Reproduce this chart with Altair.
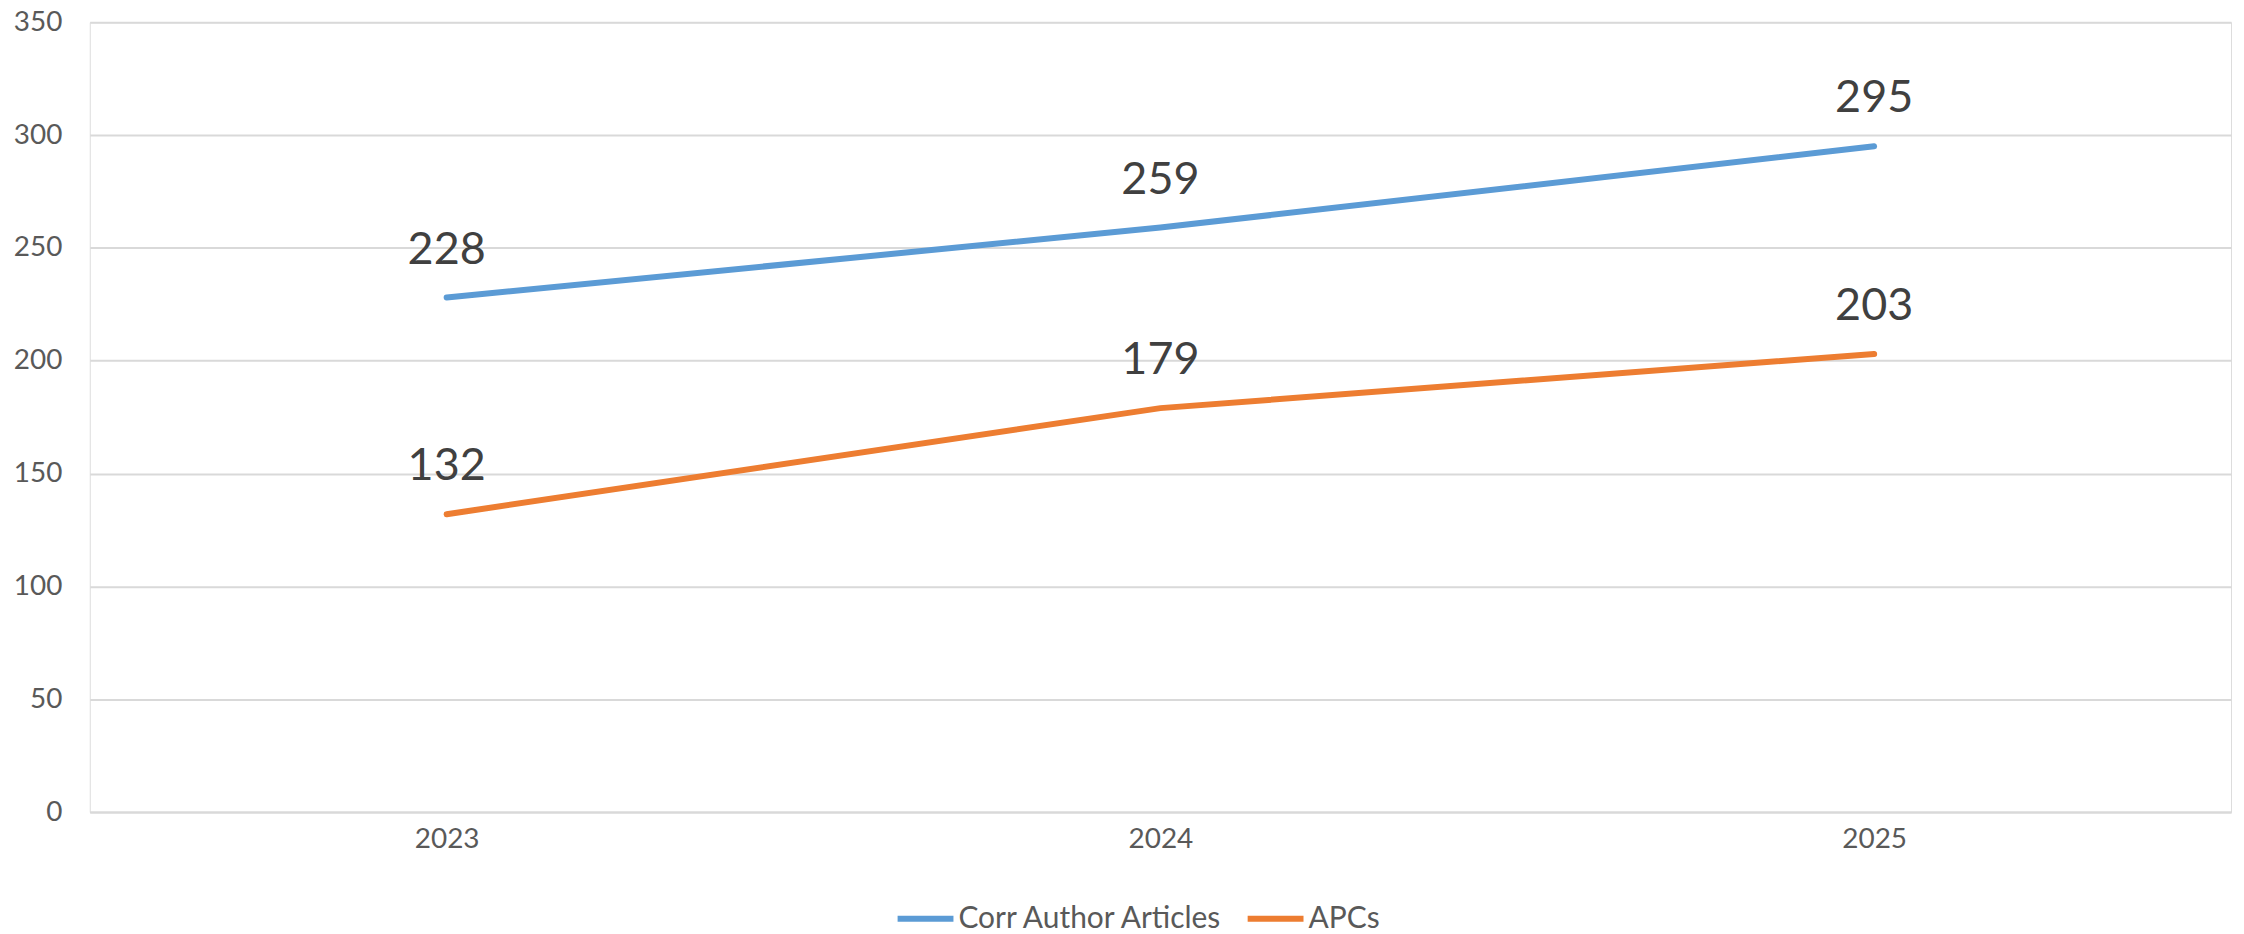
import altair as alt
import pandas as pd

years = ["2023", "2024", "2025"]
series_names = ["Corr Author Articles", "APCs"]
corr_author_articles = [228, 259, 295]
apcs = [132, 179, 203]
y_ticks = [0, 50, 100, 150, 200, 250, 300, 350]
colors = ["#5B9BD5", "#ED7D31"]

rows = []
for name, vals in zip(series_names, [corr_author_articles, apcs]):
    for yr, v in zip(years, vals):
        rows.append({"year": yr, "series": name, "value": v})
df = pd.DataFrame(rows)

FONT = "Lato"

x = alt.X(
    "year:O",
    sort=years,
    scale=alt.Scale(type="point", padding=0.5),
    axis=alt.Axis(
        title=None, labelAngle=0, labelFont=FONT, labelFontSize=28,
        labelColor="#595959", labelPadding=14, ticks=False, domain=True,
        domainColor="#D9D9D9", domainWidth=2, grid=False,
    ),
)
y = alt.Y(
    "value:Q",
    scale=alt.Scale(domain=[0, 350], nice=False),
    axis=alt.Axis(
        title=None, values=y_ticks, labelFont=FONT, labelFontSize=28,
        labelColor="#595959", labelPadding=28, ticks=False, domain=False,
        grid=True, gridColor="#D9D9D9", gridWidth=2,
    ),
)
color = alt.Color(
    "series:N",
    sort=series_names,
    scale=alt.Scale(domain=series_names, range=colors),
    legend=alt.Legend(
        title=None, orient="none", legendX=807, legendY=868,
        direction="horizontal", symbolType="stroke", symbolStrokeWidth=6,
        symbolSize=3136, labelFont=FONT, labelFontSize=30, labelLimit=500,
        labelColor="#595959", columnPadding=12, labelOffset=2,
    ),
)

base = alt.Chart(df)
lines = base.mark_line(strokeWidth=6, strokeCap="round").encode(
    x=x, y=y, color=color, detail="series:N"
)
labels = base.mark_text(
    dy=-34, baseline="alphabetic", align="center", fontSize=45, font=FONT,
    color="#404040",
).encode(x=x, y=y, text="value:Q", detail="series:N")

chart = (
    alt.layer(lines, labels)
    .properties(
        width=2147, height=792,
        autosize=alt.AutoSizeParams(type="none"),
        padding={"left": 82, "top": 13, "right": 5, "bottom": 121},
    )
    .configure_view(stroke=None)
    .configure(background="white")
)

chart.save("out.html", embed_options={"renderer": "svg", "actions": False})
